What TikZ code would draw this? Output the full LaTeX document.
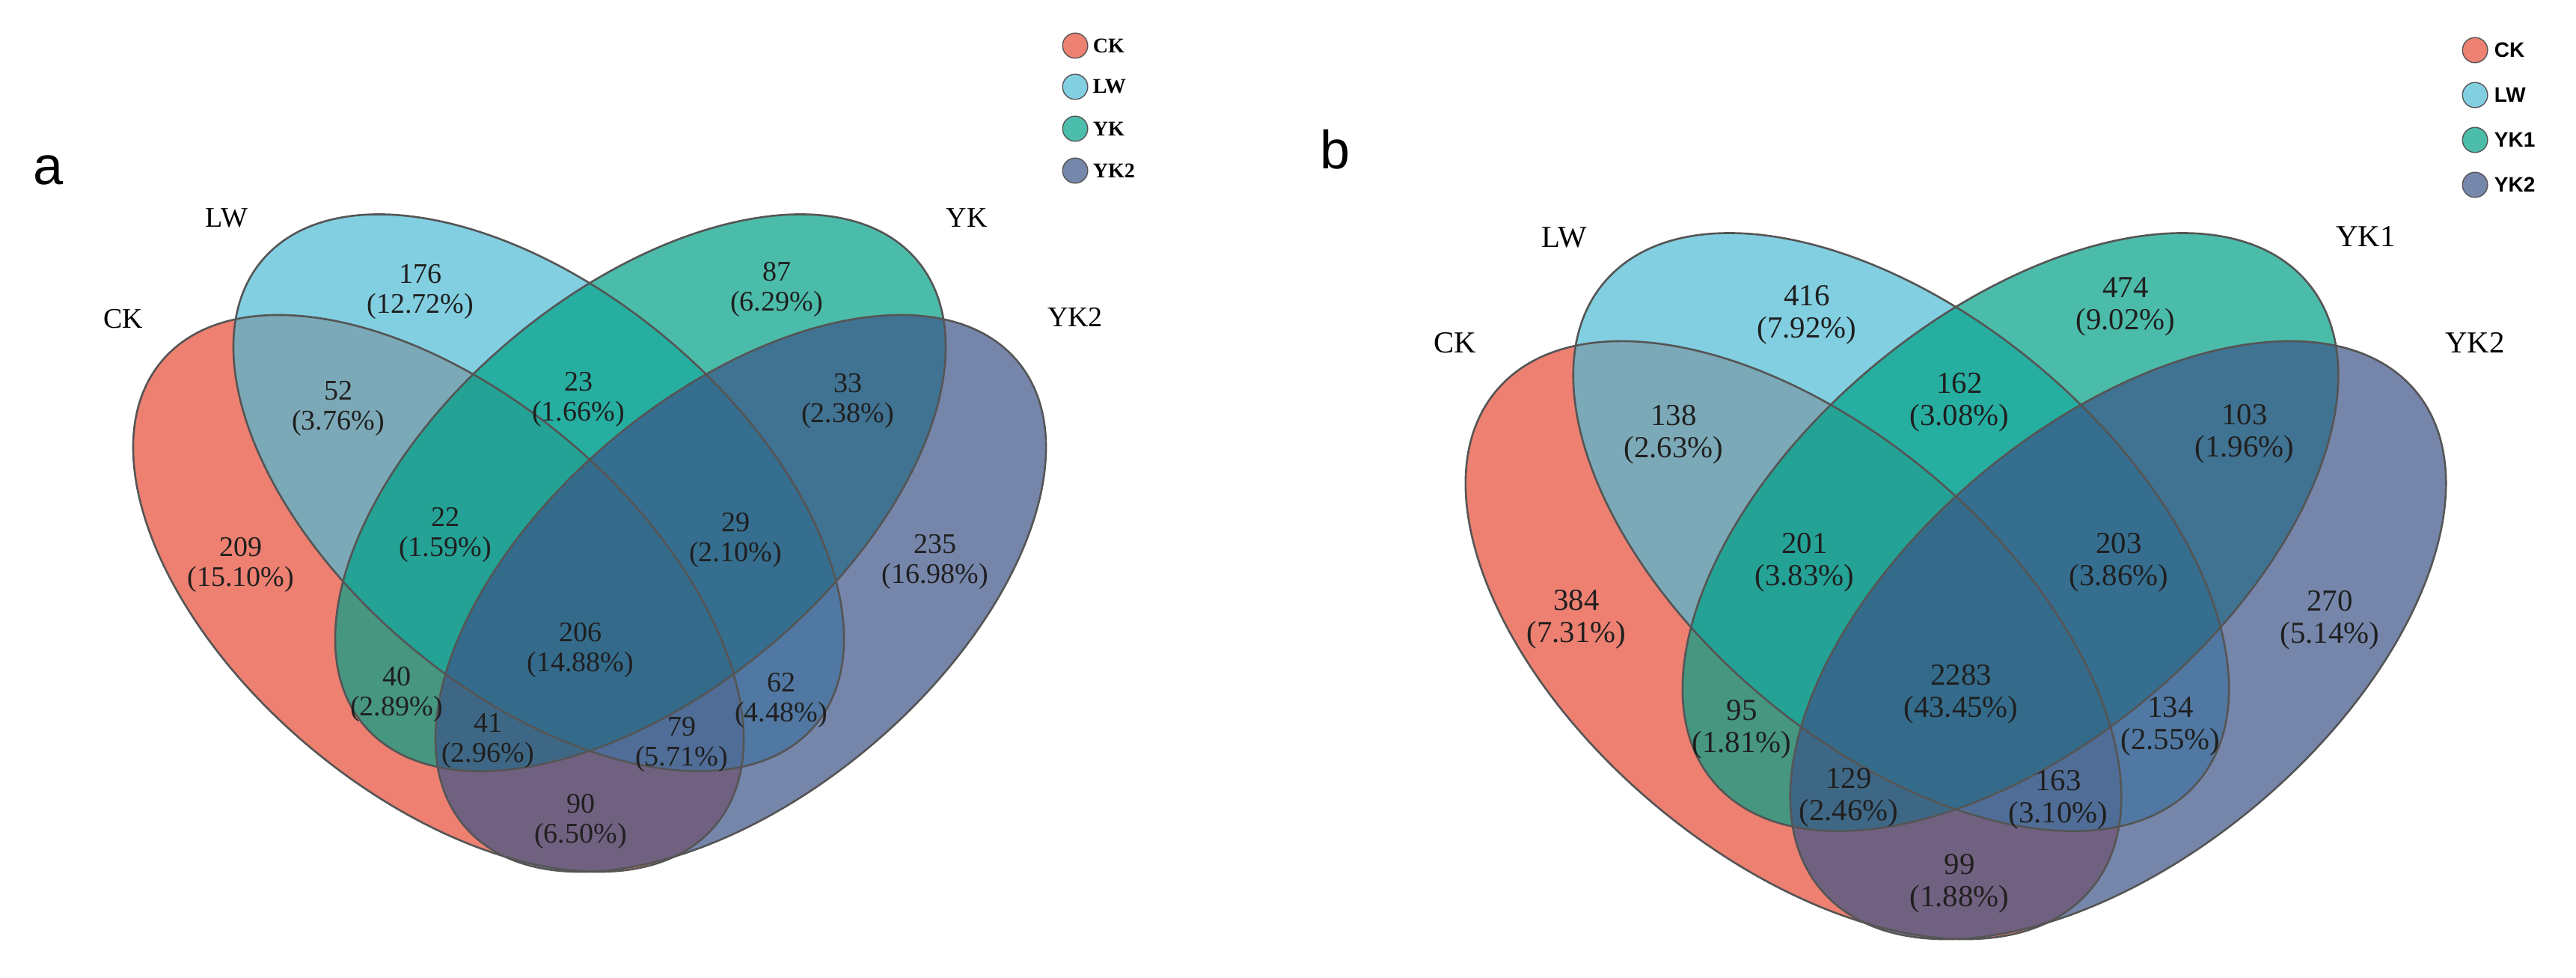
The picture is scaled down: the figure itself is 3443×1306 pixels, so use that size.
\documentclass[tikz,border=0pt]{standalone}
\usepackage{fontspec}
\setmainfont{Liberation Serif}
\newfontfamily\lsans{Liberation Sans}
\definecolor{ckc}{HTML}{E64B35}
\definecolor{lwc}{HTML}{4DBBD5}
\definecolor{ykc}{HTML}{00A087}
\definecolor{ykbc}{HTML}{3C5488}
\definecolor{edgec}{HTML}{555555}
\tikzset{
  vfill/.style={fill opacity=0.7},
  vline/.style={draw=edgec, line width=0.65pt},
  cnta/.style={align=center, inner sep=0pt, text=black!88, font=\fontsize{9.5}{10}\selectfont},
  cntb/.style={align=center, inner sep=0pt, text=black!88, font=\fontsize{10.2}{10.75}\selectfont},
  setla/.style={inner sep=0pt, font=\fontsize{9.5}{10}\selectfont},
  setlb/.style={inner sep=0pt, font=\fontsize{10.2}{10.75}\selectfont},
  legdot/.style={circle, minimum size=8.4pt, inner sep=0pt, draw=edgec, line width=0.35pt},
  legta/.style={anchor=west, inner sep=0pt, font=\fontsize{7}{8}\selectfont\bfseries},
  legtb/.style={anchor=west, inner sep=0pt, font=\lsans\fontsize{7}{8}\selectfont\bfseries},
  panel/.style={anchor=base west, inner sep=0pt, font=\lsans\fontsize{18}{20}\selectfont},
  ellL/.style={shift={(#1)}, rotate=-40},
  ellR/.style={shift={(#1)}, rotate=40},
}
\newcommand{\vennshape}{(0,0) ellipse [x radius=120.7pt, y radius=66.95pt]}
\begin{document}
\begin{tikzpicture}[x=0.25pt, y=-0.25pt]
\useasboundingbox[fill=white] (0,0) rectangle (3443,1306);

% ---------------- panel a ----------------
\begin{scope}[shift={(788,793)}]
  \fill[ckc, vfill, ellL={-202,0}] \vennshape;
  \fill[lwc, vfill, ellL={-68,-134.5}] \vennshape;
  \fill[ykc, vfill, ellR={68,-134.5}] \vennshape;
  \fill[ykbc, vfill, ellR={202,0}] \vennshape;
  \draw[vline, ellL={-202,0}] \vennshape;
  \draw[vline, ellL={-68,-134.5}] \vennshape;
  \draw[vline, ellR={68,-134.5}] \vennshape;
  \draw[vline, ellR={202,0}] \vennshape;
\end{scope}

% ---------------- panel b ----------------
\begin{scope}[shift={(2614,855.5)}, scale=1.074]
  \fill[ckc, vfill, ellL={-202,0}] \vennshape;
  \fill[lwc, vfill, ellL={-68,-134.5}] \vennshape;
  \fill[ykc, vfill, ellR={68,-134.5}] \vennshape;
  \fill[ykbc, vfill, ellR={202,0}] \vennshape;
  \draw[vline, ellL={-202,0}] \vennshape;
  \draw[vline, ellL={-68,-134.5}] \vennshape;
  \draw[vline, ellR={68,-134.5}] \vennshape;
  \draw[vline, ellR={202,0}] \vennshape;
\end{scope}

% panel letters
\node[panel] (pa) at (44,246) {a};
\node[panel] (pb) at (1764,225) {b};

% set labels a
\node[setla] (sa1) at (165,426) {CK};
\node[setla] (sa2) at (303,291) {LW};
\node[setla] (sa3) at (1292,291) {YK};
\node[setla] (sa4) at (1437,424) {YK2};
% set labels b
\node[setlb] (sb1) at (1945,458) {CK};
\node[setlb] (sb2) at (2091,317) {LW};
\node[setlb] (sb3) at (3162,316) {YK1};
\node[setlb] (sb4) at (3308,458) {YK2};

% legend a
\node[legdot, fill=ckc!70] (la1) at (1437,61) {};
\node[legdot, fill=lwc!70] (la2) at (1437,116) {};
\node[legdot, fill=ykc!70] (la3) at (1437,172) {};
\node[legdot, fill=ykbc!70] (la4) at (1437,228) {};
\node[legta] (lta1) at (1460,61) {CK};
\node[legta] (lta2) at (1460,116) {LW};
\node[legta] (lta3) at (1460,172) {YK};
\node[legta] (lta4) at (1460,228) {YK2};
% legend b
\node[legdot, fill=ckc!70] (lb1) at (3308,67) {};
\node[legdot, fill=lwc!70] (lb2) at (3308,127) {};
\node[legdot, fill=ykc!70] (lb3) at (3308,187) {};
\node[legdot, fill=ykbc!70] (lb4) at (3308,247) {};
\node[legtb] (ltb1) at (3333,67) {CK};
\node[legtb] (ltb2) at (3333,127) {LW};
\node[legtb] (ltb3) at (3333,187) {YK1};
\node[legtb] (ltb4) at (3333,247) {YK2};

% counts a
\node[cnta] (a176) at (562,390) {176\\(12.72\%)};
\node[cnta] (a87) at (1038,387) {87\\(6.29\%)};
\node[cnta] (a52) at (452,546) {52\\(3.76\%)};
\node[cnta] (a23) at (773,534) {23\\(1.66\%)};
\node[cnta] (a33) at (1133,536) {33\\(2.38\%)};
\node[cnta] (a209) at (322,755) {209\\(15.10\%)};
\node[cnta] (a22) at (595,715) {22\\(1.59\%)};
\node[cnta] (a29) at (983,722) {29\\(2.10\%)};
\node[cnta] (a235) at (1250,751) {235\\(16.98\%)};
\node[cnta] (a206) at (776,869) {206\\(14.88\%)};
\node[cnta] (a40) at (530,928) {40\\(2.89\%)};
\node[cnta] (a62) at (1044,936) {62\\(4.48\%)};
\node[cnta] (a41) at (652,990) {41\\(2.96\%)};
\node[cnta] (a79) at (911,995) {79\\(5.71\%)};
\node[cnta] (a90) at (776,1098) {90\\(6.50\%)};

% counts b
\node[cntb] (b416) at (2415,421) {416\\(7.92\%)};
\node[cntb] (b474) at (2841,410) {474\\(9.02\%)};
\node[cntb] (b138) at (2237,581) {138\\(2.63\%)};
\node[cntb] (b162) at (2619,538) {162\\(3.08\%)};
\node[cntb] (b103) at (3000,580) {103\\(1.96\%)};
\node[cntb] (b201) at (2412,752) {201\\(3.83\%)};
\node[cntb] (b203) at (2832,752) {203\\(3.86\%)};
\node[cntb] (b384) at (2107,828) {384\\(7.31\%)};
\node[cntb] (b270) at (3114,829) {270\\(5.14\%)};
\node[cntb] (b2283) at (2621,928) {2283\\(43.45\%)};
\node[cntb] (b95) at (2328,975) {95\\(1.81\%)};
\node[cntb] (b134) at (2901,971) {134\\(2.55\%)};
\node[cntb] (b129) at (2471,1066) {129\\(2.46\%)};
\node[cntb] (b163) at (2751,1069) {163\\(3.10\%)};
\node[cntb] (b99) at (2619,1181) {99\\(1.88\%)};
\end{tikzpicture}
\end{document}
